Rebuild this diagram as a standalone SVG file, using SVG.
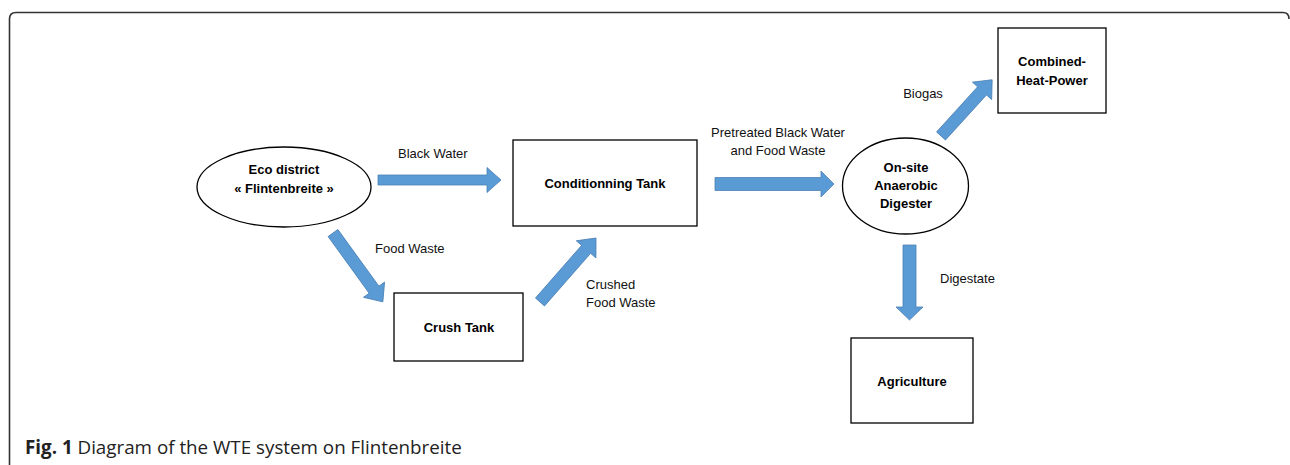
<svg xmlns="http://www.w3.org/2000/svg" width="1290" height="465" viewBox="0 0 1290 465">
<style>
.box{fill:#fff;stroke:#000;stroke-width:1.3}
.lbl{font-family:"Liberation Sans",Arial,sans-serif;font-size:13px;fill:#111}
.nt{font-family:"Liberation Sans",Arial,sans-serif;font-size:13px;font-weight:bold;fill:#000;text-anchor:middle}
.arr{fill:#5B9BD5;stroke:#4A80B5;stroke-width:0.8}
</style>
<rect width="1290" height="465" fill="#fff"/>
<path d="M9.5,465 L9.5,19 Q9.5,12.5 16,12.5 L1283,12.5 Q1289,12.5 1289,19" fill="none" stroke="#333" stroke-width="1.6"/>
<g id="connectors">
<polygon class="arr" transform="translate(378,180)" points="0,-5 109,-5 109,-12.5 123,0 109,12.5 109,5 0,5"/>
<polygon class="arr" transform="translate(715,184)" points="0,-6.5 106,-6.5 106,-13 119,0 106,13 106,6.5 0,6.5"/>
<polygon class="arr" transform="translate(909.5,245) rotate(90)" points="0,-6.5 62,-6.5 62,-13.5 75,0 62,13.5 62,6.5 0,6.5"/>
<polygon class="arr" transform="translate(941,136) rotate(-47.7)" points="0,-6 61,-6 61,-13 76,0 61,13 61,6 0,6"/>
<polygon class="arr" transform="translate(333,233) rotate(54.1)" points="0,-6 70,-6 70,-13 85,0 70,13 70,6 0,6"/>
<polygon class="arr" transform="translate(540,302) rotate(-48.8)" points="0,-6 70,-6 70,-13 85,0 70,13 70,6 0,6"/>
<text class="lbl" x="398" y="158">Black Water</text>
<text class="lbl" x="778" y="137" text-anchor="middle">Pretreated Black Water</text>
<text class="lbl" x="778" y="155" text-anchor="middle">and Food Waste</text>
<text class="lbl" x="923" y="98" text-anchor="middle">Biogas</text>
<text class="lbl" x="940" y="283">Digestate</text>
<text class="lbl" x="375" y="253">Food Waste</text>
<text class="lbl" x="586" y="289">Crushed</text>
<text class="lbl" x="586" y="307">Food Waste</text>
</g>
<g id="eco">
<ellipse class="box" cx="284" cy="187" rx="87" ry="40"/>
<text class="nt" x="284" y="174">Eco district</text>
<text class="nt" x="284" y="193">« Flintenbreite »</text>
</g>
<g id="conditioning">
<rect class="box" x="513" y="140" width="184" height="86"/>
<text class="nt" x="605" y="188">Conditionning Tank</text>
</g>
<g id="crush">
<rect class="box" x="394" y="293" width="129" height="68"/>
<text class="nt" x="459" y="332">Crush Tank</text>
</g>
<g id="digester">
<ellipse class="box" cx="905.5" cy="186" rx="63" ry="48"/>
<text class="nt" x="906" y="172">On-site</text>
<text class="nt" x="906" y="190">Anaerobic</text>
<text class="nt" x="906" y="208">Digester</text>
</g>
<g id="chp">
<rect class="box" x="998" y="28" width="108" height="85"/>
<text class="nt" x="1052" y="66">Combined-</text>
<text class="nt" x="1052" y="85">Heat-Power</text>
</g>
<g id="agriculture">
<rect class="box" x="851" y="338" width="122" height="85"/>
<text class="nt" x="912" y="386">Agriculture</text>
</g>
<text x="25" y="454" font-family="'Open Sans','Liberation Sans',sans-serif" font-size="18.8" fill="#222"><tspan font-weight="bold">Fig. 1</tspan> Diagram of the WTE system on Flintenbreite</text>
</svg>
